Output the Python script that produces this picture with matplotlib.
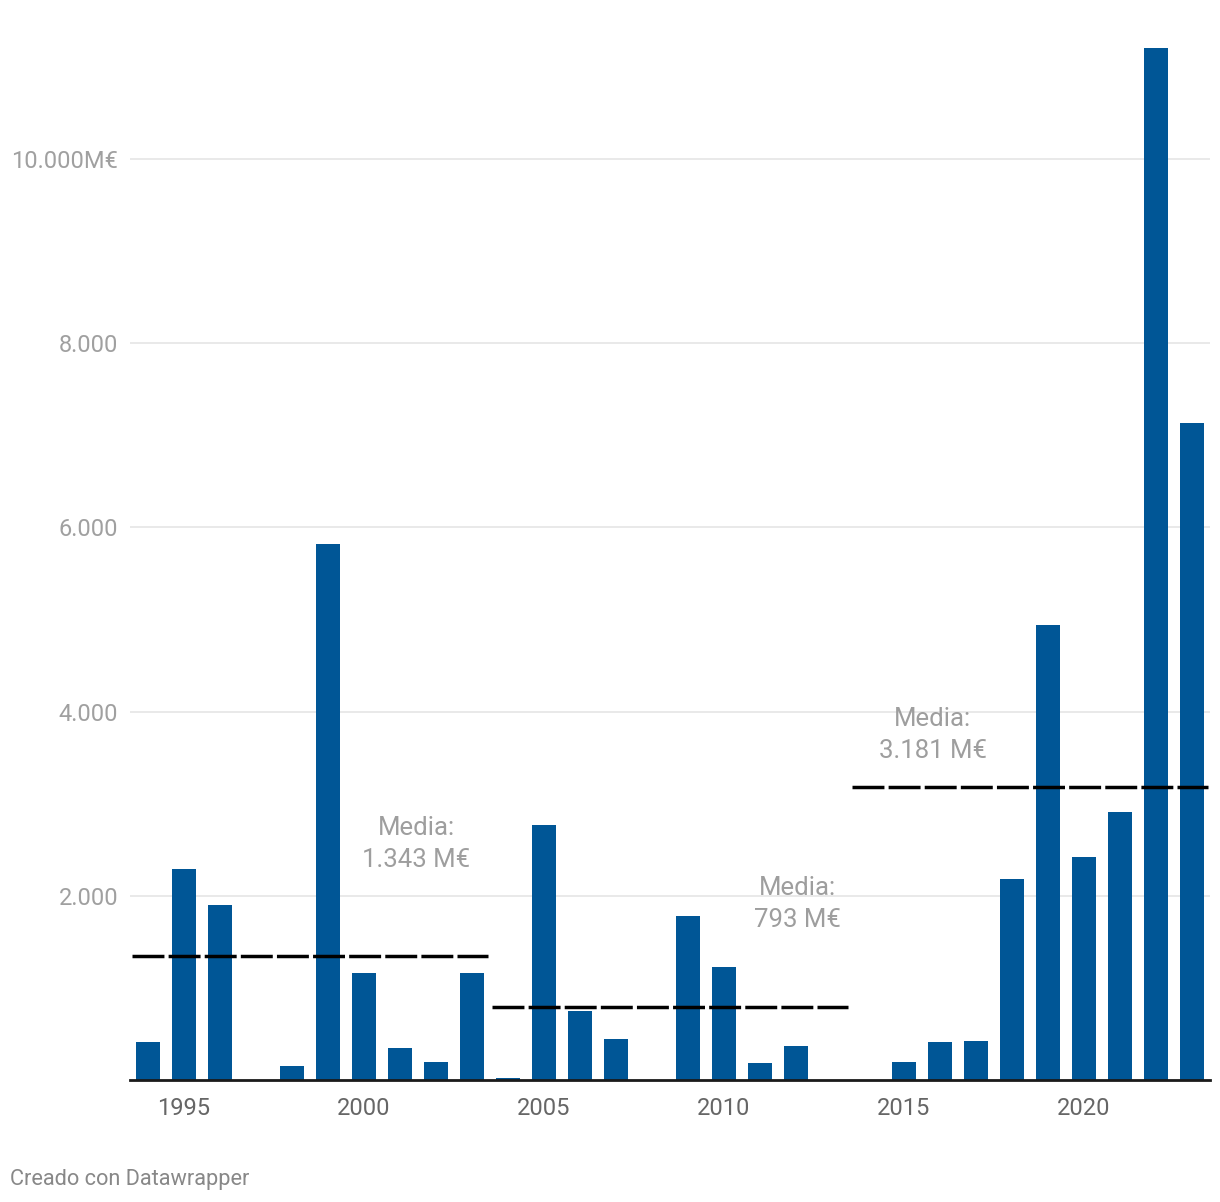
import matplotlib.pyplot as plt
from matplotlib.ticker import FixedLocator

plt.rcParams["font.family"] = ["Roboto", "DejaVu Sans"]

years = list(range(1994, 2024))
values = [413, 2291, 1900, 0, 152, 5820, 1162, 347, 195, 1162,
          22, 2769, 749, 445, 0, 1781, 1227, 185, 369, 0,
          0, 195, 413, 423, 2182, 4940, 2421, 2910, 11205, 7134]

# media por década
periods = [(1994, 2003), (2004, 2013), (2014, 2023)]
means = [1343, 793, 3181]
mean_labels = ["Media:\n1.343 M€", "Media:\n793 M€", "Media:\n3.181 M€"]
label_pos = [(2001.45, 2565), (2012.05, 1914), (2015.8, 3748)]

yticks = [2000, 4000, 6000, 8000, 10000]
ytick_labels = ["2.000", "4.000", "6.000", "8.000", "10.000M€"]
xticks = [1995, 2000, 2005, 2010, 2015, 2020]

fig = plt.figure(figsize=(12.2, 12.02), dpi=100)
W, H = 1220, 1202
ax = fig.add_axes([130 / W, 1 - 1080 / H, 1080 / W, (1080 - 40) / H])

ax.bar(years, values, width=0.667, color="#005696", zorder=2)

for (a, b), m in zip(periods, means):
    ax.plot([a - 0.45, b + 0.45], [m, m], color="black", lw=2.5,
            dashes=(9.2, 1.2), solid_capstyle="butt", dash_capstyle="butt", zorder=3)

for txt, (x, y) in zip(mean_labels, label_pos):
    ax.text(x, y, txt, ha="center", va="center", fontsize=18.5,
            color="#9e9e9e", linespacing=1.4, zorder=4)

ax.set_xlim(1993.5, 2023.5)
ax.set_ylim(0, 11292)

ax.yaxis.set_major_locator(FixedLocator(yticks))
ax.set_yticklabels(ytick_labels)
ax.set_xticks(xticks)
ax.grid(axis="y", color="#e3e3e3", lw=1.1, zorder=0)

for s in ["top", "right", "left"]:
    ax.spines[s].set_visible(False)
ax.spines["bottom"].set_color("#1a1a1a")
ax.spines["bottom"].set_linewidth(2)
ax.spines["bottom"].set_zorder(5)

ax.tick_params(axis="y", length=0, pad=8.5, labelsize=17, labelcolor="#a0a0a0")
ax.tick_params(axis="x", length=0, pad=12, labelsize=17, labelcolor="#666666")

fig.text(10 / W, 1 - 1179 / H, "Creado con Datawrapper", ha="left", va="center",
         fontsize=15.7, color="#888888")

fig.savefig("out.png", dpi=100, facecolor="white")
